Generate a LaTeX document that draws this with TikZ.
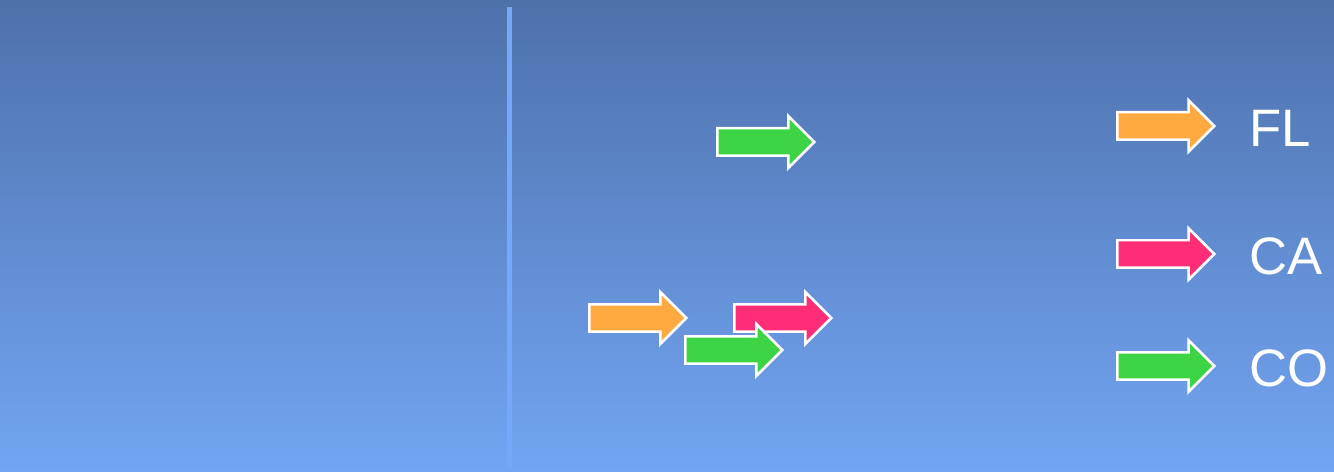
\documentclass[tikz,border=0pt]{standalone}
\usepackage{fontspec}
\setmainfont{Liberation Sans}
\usetikzlibrary{positioning, shapes.arrows}

\definecolor{bgtop}{HTML}{4D71AB}
\definecolor{bgbottom}{HTML}{73A5F3}
\definecolor{divider}{HTML}{75A8F8}
\definecolor{florange}{HTML}{FFAA40}
\definecolor{capink}{HTML}{FF2D78}
\definecolor{cogreen}{HTML}{3CD444}

\tikzset{
  marker/.style={single arrow, draw=white, line width=0.05cm, anchor=tail,
    inner xsep=0pt, inner ysep=0.25cm, minimum height=1.94cm,
    single arrow head extend=0.24cm, single arrow tip angle=90},
  legendtext/.style={text=white, inner sep=0pt, anchor=west,
    font=\fontsize{30}{36}\selectfont}
}

\begin{document}
\begin{tikzpicture}[x=0.02cm, y=-0.02cm]
  % Background
  \shade[top color=bgtop, bottom color=bgbottom] (0,0) rectangle (1334,472);
  \useasboundingbox (0,0) rectangle (1334,472);
  \fill[divider] (507,7) rectangle (512,468);

  % Arrows
  \node[marker, fill=cogreen] (upper) at (716,142) {};
  \node[marker, fill=florange] (left) at (588,318) {};
  \node[marker, fill=capink] (middle) at (733,318) {};
  \node[marker, fill=cogreen] (lower) at (684,350) {};

  % Legend
  \foreach \name/\col/\y in {FL/florange/126, CA/capink/254, CO/cogreen/366}{
    \node[marker, fill=\col] (\name arrow) at (1116,\y) {};
    \node[legendtext, right=0.66cm of \name arrow.tip, yshift=-0.04cm] (\name label) {\name};
  }
\end{tikzpicture}
\end{document}
